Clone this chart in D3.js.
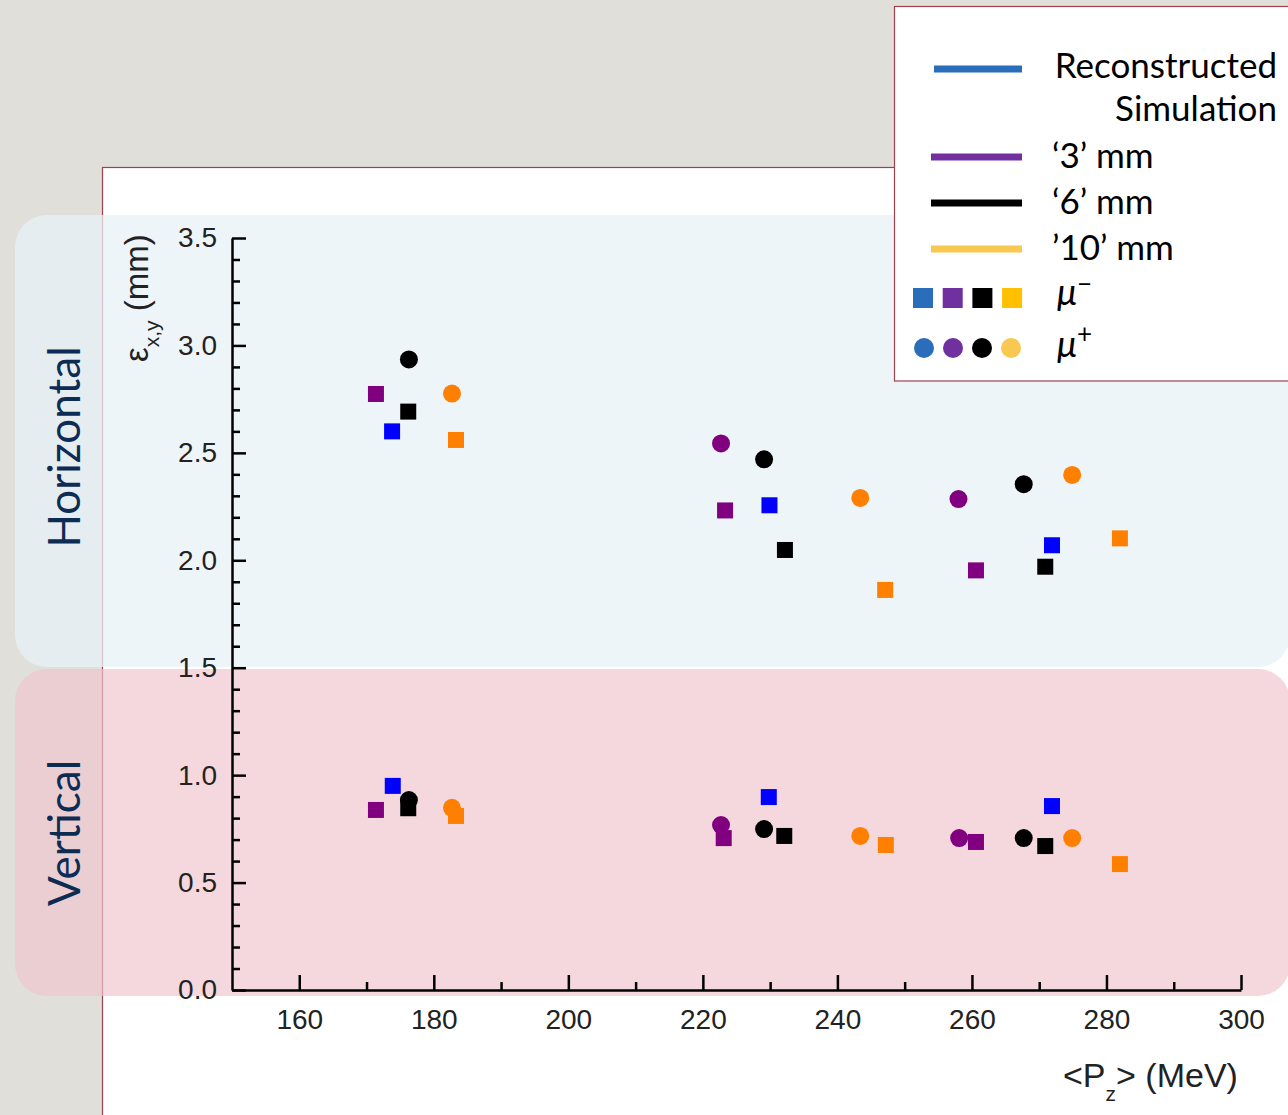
<!DOCTYPE html>
<html>
<head>
<meta charset="utf-8">
<script src="https://cdn.jsdelivr.net/npm/d3@7"></script>
<style>
  html, body { margin: 0; padding: 0; background: #e0dfda; }
  svg { display: block; }
</style>
</head>
<body>
<script>
// Emittance vs mean longitudinal momentum, per diffuser setting and muon charge.
// Each point: [<Pz> in MeV, emittance in mm]

// Reconstructed (mu-)
const recoMinusH = [[173.8, 2.60], [229.9, 2.256], [271.9, 2.07]];
const recoMinusV = [[173.9, 0.95], [229.8, 0.898], [271.9, 0.856]];

// '3' mm simulation
const mm3MinusH = [[171.4, 2.774], [223.3, 2.232], [260.6, 1.953]];
const mm3PlusH  = [[222.7, 2.544], [258.0, 2.285]];
const mm3MinusV = [[171.4, 0.838], [223.1, 0.707], [260.6, 0.689]];
const mm3PlusV  = [[222.7, 0.768], [258.1, 0.707]];

// '6' mm simulation
const mm6MinusH = [[176.2, 2.692], [232.2, 2.048], [270.9, 1.970]];
const mm6PlusH  = [[176.3, 2.935], [229.1, 2.470], [267.7, 2.354]];
const mm6MinusV = [[176.2, 0.846], [232.1, 0.717], [270.9, 0.670]];
const mm6PlusV  = [[176.3, 0.884], [229.1, 0.749], [267.7, 0.707]];

// '10' mm simulation
const mm10MinusH = [[183.3, 2.560], [247.1, 1.862], [282.0, 2.102]];
const mm10PlusH  = [[182.7, 2.776], [243.4, 2.290], [274.9, 2.397]];
const mm10MinusV = [[183.3, 0.810], [247.2, 0.675], [282.0, 0.586]];
const mm10PlusV  = [[182.7, 0.848], [243.4, 0.717], [274.9, 0.707]];

// Axis ticks
const xMajorTicks = [160, 180, 200, 220, 240, 260, 280, 300];
const xMinorTicks = [170, 190, 210, 230, 250, 270, 290];
const yMajorTicks = [0.0, 0.5, 1.0, 1.5, 2.0, 2.5, 3.0, 3.5];
const yMinorTicks = d3.range(0, 35).map(i => i / 10).filter(v => Math.round(v * 10) % 5 !== 0);

// Legend entries
const legendLines = [
  { label: "Reconstructed", sub: "Simulation", color: "#2a6ebb" },
  { label: "\u20183\u2019 mm", color: "#7030a0" },
  { label: "\u20186\u2019 mm", color: "#000000" },
  { label: "\u201910\u2019 mm", color: "#f8c850" }
];
const legendSquareColors = ["#2a6ebb", "#7030a0", "#000000", "#ffc000"];
const legendCircleColors = ["#2a6ebb", "#7030a0", "#000000", "#f8c850"];

// Marker colours used in the plot
const colReco = "#0000ff", col3 = "#800080", col6 = "#000000", col10 = "#ff8000";

const W = 1288, H = 1115;
const svg = d3.select("body").append("svg").attr("width", W).attr("height", H);

const x = d3.scaleLinear().domain([150, 300]).range([232, 1241]);
const y = d3.scaleLinear().domain([0, 3.5]).range([990, 238]);

// Slide background and white plot panel
svg.append("rect").attr("width", W).attr("height", H).attr("fill", "#e0dfda");
svg.append("rect").attr("x", 102.5).attr("y", 167.5).attr("width", 1300).attr("height", 1000)
  .attr("fill", "#ffffff").attr("stroke", "#a0404f").attr("stroke-width", 1.2);

// Translucent bands for the two planes
svg.append("rect").attr("x", 15).attr("y", 215).attr("width", 1275).attr("height", 452)
  .attr("rx", 32).attr("fill", "rgba(232,242,247,0.75)");
svg.append("rect").attr("x", 15).attr("y", 669).attr("width", 1275).attr("height", 327)
  .attr("rx", 32).attr("fill", "rgba(240,198,206,0.68)");

const bandFont = "Lato, 'Open Sans', sans-serif";
svg.append("text").attr("transform", "translate(80,447) rotate(-90)")
  .attr("text-anchor", "middle").attr("font-family", bandFont).attr("font-size", 44)
  .attr("fill", "#0d2c54").text("Horizontal");
svg.append("text").attr("transform", "translate(80,833) rotate(-90)")
  .attr("text-anchor", "middle").attr("font-family", bandFont).attr("font-size", 44)
  .attr("fill", "#0d2c54").text("Vertical");

// Axes
const axisFont = "'Liberation Sans', Arial, sans-serif";
const gx = svg.append("g").attr("transform", "translate(0,990)");
gx.call(d3.axisBottom(x).tickValues(xMajorTicks).tickSizeInner(-15).tickSizeOuter(0).tickPadding(19)
  .tickFormat(d3.format("d")));
const gxMinor = svg.append("g").attr("transform", "translate(0,990)");
gxMinor.call(d3.axisBottom(x).tickValues(xMinorTicks).tickSizeInner(-8).tickSizeOuter(0).tickFormat(""));

const gy = svg.append("g").attr("transform", "translate(232,0)");
gy.call(d3.axisLeft(y).tickValues(yMajorTicks).tickSizeInner(-14).tickSizeOuter(0).tickPadding(15)
  .tickFormat(d3.format(".1f")));
const gyMinor = svg.append("g").attr("transform", "translate(232,0)");
gyMinor.call(d3.axisLeft(y).tickValues(yMinorTicks).tickSizeInner(-8).tickSizeOuter(0).tickFormat(""));

[gx, gxMinor, gy, gyMinor].forEach(g => {
  g.selectAll(".domain").attr("stroke", "#000").attr("stroke-width", 2.5);
  g.selectAll(".tick line").attr("stroke", "#000").attr("stroke-width", 2.5);
  g.selectAll(".tick text").attr("font-family", axisFont).attr("font-size", 28).attr("fill", "#222");
});
gxMinor.select(".domain").remove();
gyMinor.select(".domain").remove();

// Axis titles
const yTitle = svg.append("text").attr("transform", "translate(148,362) rotate(-90)")
  .attr("font-family", axisFont).attr("font-size", 33).attr("fill", "#222");
yTitle.append("tspan").text("\u03b5");
yTitle.append("tspan").attr("font-size", 21).attr("dy", 11).text("x,y");
yTitle.append("tspan").attr("dy", -11).text(" (mm)");

const xTitle = svg.append("text").attr("x", 1063).attr("y", 1087)
  .attr("font-family", axisFont).attr("font-size", 34).attr("fill", "#222");
xTitle.append("tspan").text("<P");
xTitle.append("tspan").attr("font-size", 21).attr("dy", 14).text("z");
xTitle.append("tspan").attr("dy", -14).text("> (MeV)");

// Data markers: circles for mu+, squares for mu-
const plot = svg.append("g");
function circles(data, color) {
  plot.selectAll(null).data(data).enter().append("circle")
    .attr("cx", d => x(d[0])).attr("cy", d => y(d[1])).attr("r", 9).attr("fill", color);
}
function squares(data, color) {
  const s = 16;
  plot.selectAll(null).data(data).enter().append("rect")
    .attr("x", d => x(d[0]) - s / 2).attr("y", d => y(d[1]) - s / 2)
    .attr("width", s).attr("height", s).attr("fill", color);
}
circles(mm3PlusH, col3); circles(mm3PlusV, col3);
circles(mm6PlusH, col6); circles(mm6PlusV, col6);
circles(mm10PlusH, col10); circles(mm10PlusV, col10);
squares(mm3MinusH, col3); squares(mm3MinusV, col3);
squares(mm6MinusH, col6); squares(mm6MinusV, col6);
squares(mm10MinusH, col10); squares(mm10MinusV, col10);
squares(recoMinusH, colReco); squares(recoMinusV, colReco);

// Legend
const lg = svg.append("g");
lg.append("rect").attr("x", 894.5).attr("y", 6.5).attr("width", 420).attr("height", 374.5)
  .attr("fill", "#ffffff").attr("stroke", "#a0404f").attr("stroke-width", 1.2);
const legendFont = "Lato, 'Open Sans', sans-serif";
const lineRows = [69, 157, 203, 249];
legendLines.forEach((d, i) => {
  lg.append("line").attr("x1", i === 0 ? 934 : 931).attr("x2", 1022)
    .attr("y1", lineRows[i]).attr("y2", lineRows[i])
    .attr("stroke", d.color).attr("stroke-width", 7);
  if (i === 0) {
    lg.append("text").attr("x", 1277).attr("y", 78).attr("text-anchor", "end")
      .attr("font-family", legendFont).attr("font-size", 35).attr("fill", "#000").text(d.label);
    lg.append("text").attr("x", 1277).attr("y", 121).attr("text-anchor", "end")
      .attr("font-family", legendFont).attr("font-size", 35).attr("fill", "#000").text(d.sub);
  } else {
    lg.append("text").attr("x", 1052).attr("y", lineRows[i] + 11)
      .attr("font-family", legendFont).attr("font-size", 35).attr("fill", "#000").text(d.label);
  }
});
legendSquareColors.forEach((c, i) => {
  lg.append("rect").attr("x", 913 + i * 29.7).attr("y", 288).attr("width", 20).attr("height", 20).attr("fill", c);
});
legendCircleColors.forEach((c, i) => {
  lg.append("circle").attr("cx", 924 + i * 29).attr("cy", 348).attr("r", 10).attr("fill", c);
});
const muMinus = lg.append("text").attr("x", 1057).attr("y", 305)
  .attr("font-family", legendFont).attr("font-size", 36).attr("font-style", "italic").attr("fill", "#000");
muMinus.append("tspan").text("\u03bc");
muMinus.append("tspan").attr("font-size", 26).attr("font-style", "normal").attr("dy", -12).text("\u2212");
const muPlus = lg.append("text").attr("x", 1057).attr("y", 357)
  .attr("font-family", legendFont).attr("font-size", 36).attr("font-style", "italic").attr("fill", "#000");
muPlus.append("tspan").text("\u03bc");
muPlus.append("tspan").attr("font-size", 26).attr("font-style", "normal").attr("dy", -14).text("+");
</script>
</body>
</html>
